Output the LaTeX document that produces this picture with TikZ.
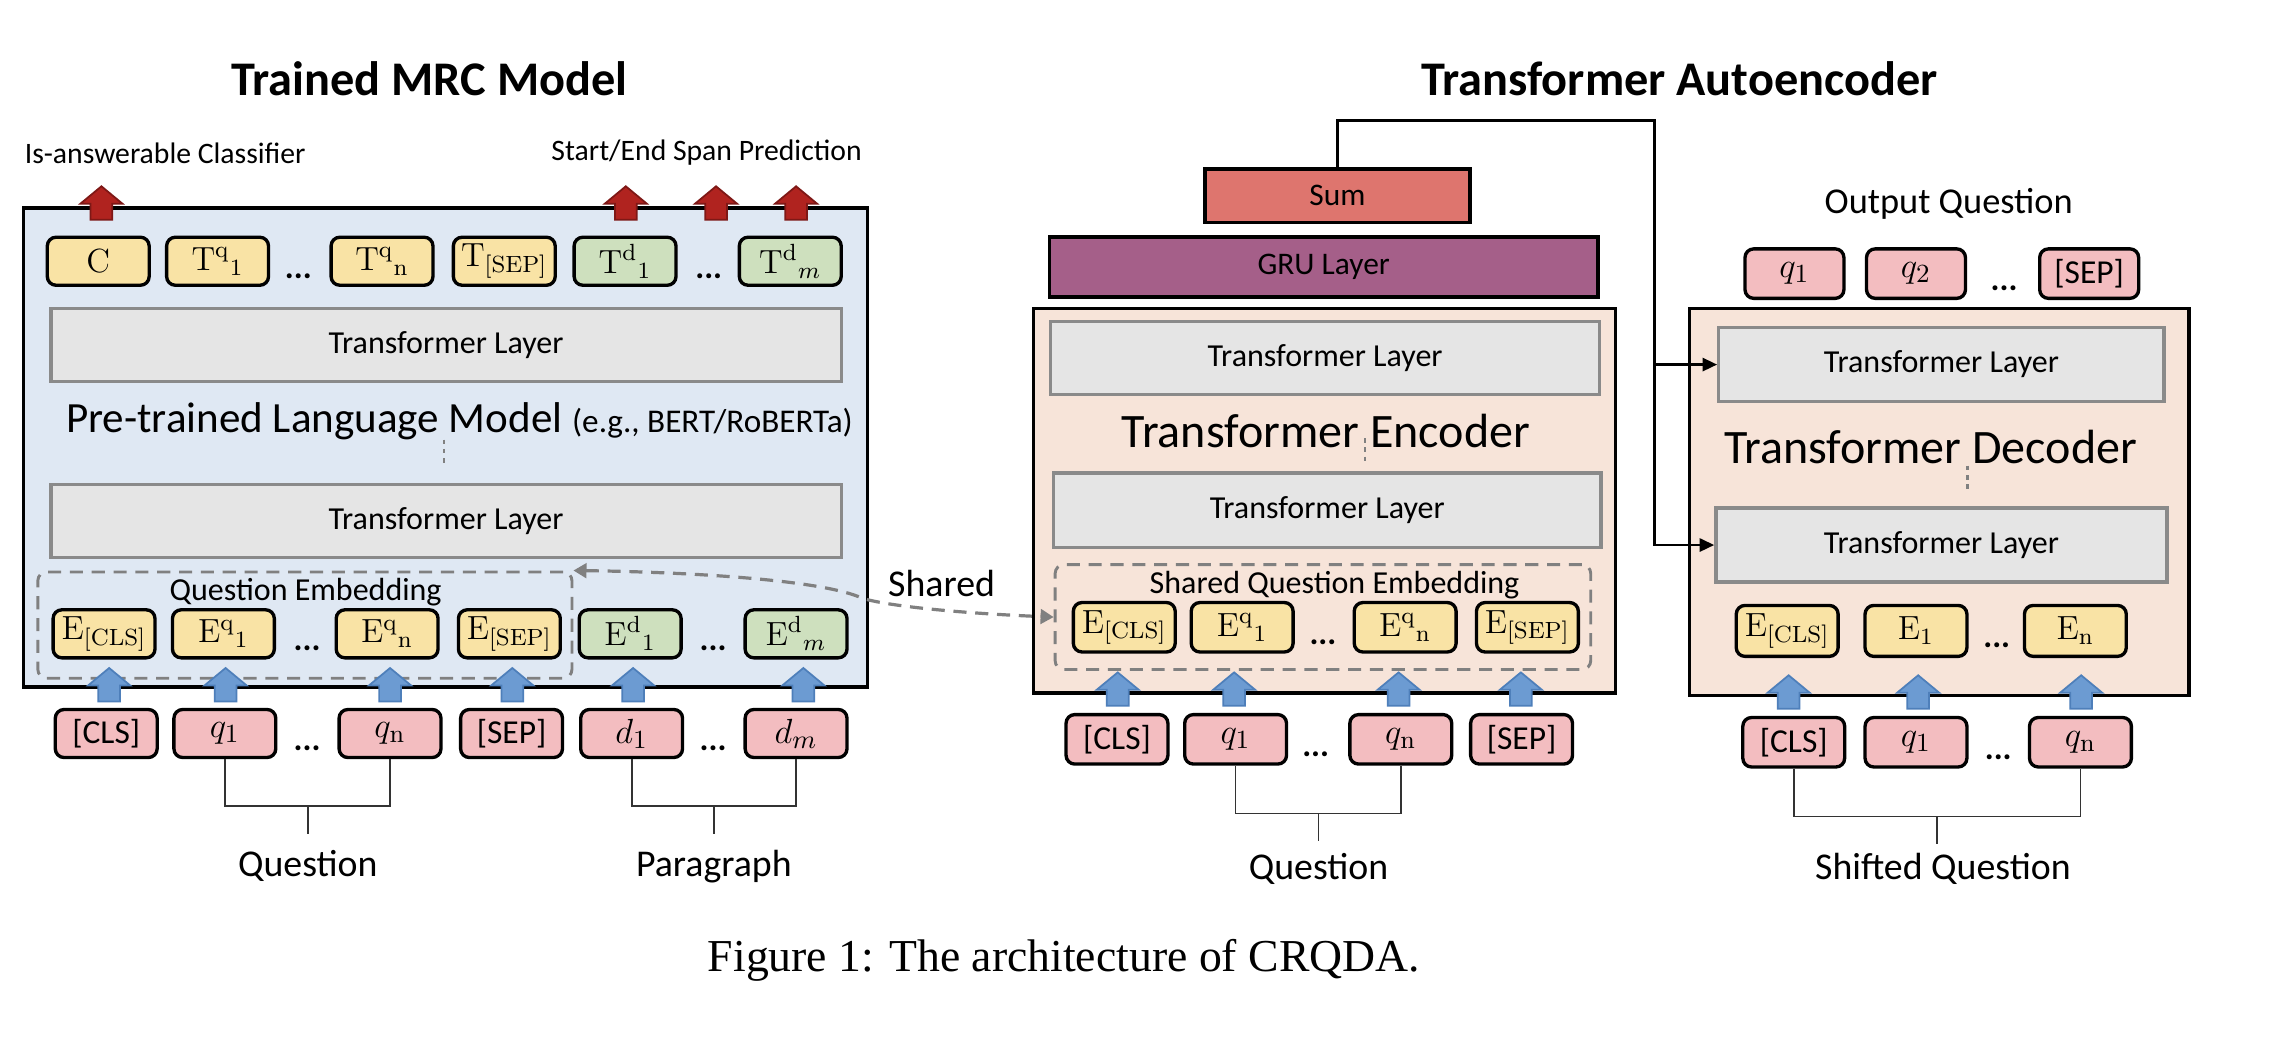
\documentclass[tikz,border=0pt]{standalone}
\usepackage{fontspec}
\newfontfamily\carl{Carlito}
\newfontfamily\tms{Liberation Serif}
\usetikzlibrary{arrows.meta}
\newcommand\myfs[1]{\fontsize{#1}{#1}\selectfont}
\definecolor{mrcbg}{HTML}{DFE8F3}
\definecolor{aebg}{HTML}{F7E4D9}
\definecolor{tyel}{HTML}{F9E3A5}
\definecolor{tgrn}{HTML}{CEE0BE}
\definecolor{tpnk}{HTML}{F3BDC0}
\definecolor{lyfill}{HTML}{E5E5E5}
\definecolor{lydraw}{HTML}{8A8A8A}
\definecolor{sumc}{HTML}{DE756E}
\definecolor{gruc}{HTML}{A55F89}
\definecolor{ared}{HTML}{B0231F}
\definecolor{areddk}{HTML}{7E1816}
\definecolor{ablue}{HTML}{6C9BD2}
\definecolor{abluedk}{HTML}{4E7FBA}
\definecolor{dashg}{HTML}{808080}
\begin{document}
\begin{tikzpicture}[x=0.5pt,y=-0.5pt,
  tok/.style={draw=black,line width=1.15pt,rounded corners=3pt,minimum width=35pt,minimum height=16.5pt,inner sep=0pt,font=\myfs{11.5}},
  ytok/.style={tok,fill=tyel},
  gtok/.style={tok,fill=tgrn},
  ptok/.style={tok,fill=tpnk,minimum height=16.5pt,font=\myfs{12.5}},
  ell/.style={font=\carl\bfseries\myfs{11.5},inner sep=0pt},
  layer/.style={draw=lydraw,fill=lyfill,line width=1.15pt,inner sep=0pt,font=\carl\myfs{11}},
  bigbox/.style={draw=black,line width=1.2pt,inner sep=0pt},
  dbox/.style={draw=dashg,line width=1pt,dash pattern=on 4.5pt off 3pt,rounded corners=3pt,inner sep=0pt},
  lbl/.style={font=\carl\myfs{13},inner sep=0pt},
  small/.style={font=\carl\myfs{10.2},inner sep=0pt},
  ttl/.style={font=\carl\bfseries\myfs{16.6},inner sep=0pt},
  big/.style={font=\carl\myfs{16.5},inner sep=0pt},
  brk/.style={draw=black!80,line width=0.6pt},
  vdots/.style={draw=dashg,line width=0.9pt,dash pattern=on 1.6pt off 1.6pt},
  conn/.style={draw=black,line width=0.9pt,-{Triangle[length=5pt,width=4.5pt]}},
  redup/.style={fill=ared,draw=areddk,line width=0.6pt},
  blueup/.style={fill=ablue,draw=abluedk,line width=0.6pt},
  blockup/.pic={\path[pic actions] (-7.5,0) -- (-7.5,-11) -- (-14.5,-11) -- (0,-23) -- (14.5,-11) -- (7.5,-11) -- (7.5,0) -- cycle;}
]
\fill[white] (0,0) rectangle (1568,717.5);
\useasboundingbox (0,0) rectangle (1568,717.5);

% ================= LEFT: Trained MRC Model =================
\node[ttl] (t1) at (295,54) {Trained MRC Model};
\node[small] (isa) at (113.5,105) {Is-answerable Classifier};
\node[small] (span) at (485.5,105) {Start/End Span Prediction};
\node[bigbox,fill=mrcbg,minimum width=290pt,minimum height=164.5pt] (mrc) at (306,307.5) {};

% top tokens
\node[ytok] (tc) at (67.5,179.5) {$\mathrm{C}$};
\node[ytok] (tq1) at (149.5,179.5) {$\mathrm{T}^{\mathrm{q}}{}_{1}$};
\node[ell] (tdots1) at (205,189.5) {...};
\node[ytok] (tqn) at (262.5,179.5) {$\mathrm{T}^{\mathrm{q}}{}_{\mathrm{n}}$};
\node[ytok] (tsep) at (346.5,179.5) {$\mathrm{T}_{[\mathrm{SEP}]}$};
\node[gtok] (td1) at (429.5,179.5) {$\mathrm{T}^{\mathrm{d}}{}_{1}$};
\node[ell] (tdots2) at (487,189.5) {...};
\node[gtok] (tdm) at (543,179.5) {$\mathrm{T}^{\mathrm{d}}{}_{m}$};

\pic[redup] at (69.7,151) {blockup};
\pic[redup] at (430,151) {blockup};
\pic[redup] at (492,151) {blockup};
\pic[redup] at (547,151) {blockup};

\node[layer,minimum width=271.5pt,minimum height=25pt] (ltl1) at (306.5,237) {Transformer Layer};
\node[anchor=base west,inner sep=0pt,font=\carl] (plm) at (45,297) {\myfs{14.8}Pre-trained Language Model \myfs{11.4}(e.g., BERT/RoBERTa)};
\draw[vdots] (305,302) -- (305,320);
\node[layer,minimum width=271.5pt,minimum height=25pt] (ltl2) at (306.5,358) {Transformer Layer};

\node[dbox,minimum width=183.5pt,minimum height=36.5pt] (qe) at (209.5,429.5) {};
\node[font=\carl\myfs{11},inner sep=0pt] (qet) at (210,407) {Question Embedding};

% embeddings
\node[ytok] (ecls) at (71.5,435.5) {$\mathrm{E}_{[\mathrm{CLS}]}$};
\node[ytok] (eq1) at (153.5,435.5) {$\mathrm{E}^{\mathrm{q}}{}_{1}$};
\node[ell] (edots1) at (211,445.5) {...};
\node[ytok] (eqn) at (266,435.5) {$\mathrm{E}^{\mathrm{q}}{}_{\mathrm{n}}$};
\node[ytok] (esep) at (350,435.5) {$\mathrm{E}_{[\mathrm{SEP}]}$};
\node[gtok] (ed1) at (433,435.5) {$\mathrm{E}^{\mathrm{d}}{}_{1}$};
\node[ell] (edots2) at (490,445.5) {...};
\node[gtok] (edm) at (547,435.5) {$\mathrm{E}^{\mathrm{d}}{}_{m}$};

% inputs
\node[ptok] (icls) at (73,504) {\carl\myfs{11.5}[CLS]};
\node[ptok] (iq1) at (154.5,504) {$q_1$};
\node[ell] (idots1) at (211,514) {...};
\node[ptok] (iqn) at (268,504) {$q_{\mathrm{n}}$};
\node[ptok] (isep) at (351.5,504) {\carl\myfs{11.5}[SEP]};
\node[ptok] (id1) at (434,504) {$d_1$};
\node[ell] (idots2) at (490,514) {...};
\node[ptok] (idm) at (547,504) {$d_m$};

\foreach \xx in {75,155,268,352,435,552} \pic[blueup] at (\xx,482) {blockup};

% brackets
\coordinate (qj) at (211.5,554);
\coordinate (qend) at (211.5,573);
\draw[brk] (iq1.south) |- (qj) -| (iqn.south);
\draw[brk] (qj) -- (qend);
\coordinate (pj) at (490.5,554);
\coordinate (pend) at (490.5,573);
\draw[brk] (id1.south) |- (pj) -| (idm.south);
\draw[brk] (pj) -- (pend);
\node[lbl,anchor=base] (lq) at (211.5,602) {Question};
\node[lbl,anchor=base] (lp) at (490.5,602) {Paragraph};

% ================= MIDDLE: Encoder =================
\node[ttl] (t2) at (1154,54) {Transformer Autoencoder};
\node[bigbox,fill=sumc,minimum width=91pt,minimum height=18.5pt,font=\carl\myfs{10.8}] (sum) at (919,134.5) {Sum};
\node[bigbox,fill=gruc,minimum width=188.5pt,minimum height=20.5pt,font=\carl\myfs{10.8}] (gru) at (909.5,183.5) {GRU Layer};
\node[bigbox,fill=aebg,minimum width=200pt,minimum height=132pt] (enc) at (910,344) {};
\node[layer,minimum width=188.5pt,minimum height=25pt] (etl1) at (910.5,246) {Transformer Layer};
\node[big] (enct) at (911,296) {Transformer Encoder};
\draw[vdots] (938,301) -- (938,318);
\node[layer,minimum width=188pt,minimum height=25.5pt] (etl2) at (912,350.5) {Transformer Layer};
\node[dbox,minimum width=184pt,minimum height=36pt] (se) at (909,424) {};
\node[font=\carl\myfs{11},inner sep=0pt] (set) at (917,402) {Shared Question Embedding};

\node[ytok,minimum height=17pt] (xecls) at (772.5,431) {$\mathrm{E}_{[\mathrm{CLS}]}$};
\node[ytok,minimum height=17pt] (xeq1) at (853.5,431) {$\mathrm{E}^{\mathrm{q}}{}_{1}$};
\node[ell] (xedots) at (909,441) {...};
\node[ytok,minimum height=17pt] (xeqn) at (965.5,431) {$\mathrm{E}^{\mathrm{q}}{}_{\mathrm{n}}$};
\node[ytok,minimum height=17pt] (xesep) at (1049.5,431) {$\mathrm{E}_{[\mathrm{SEP}]}$};

\node[ptok,minimum height=17pt] (xicls) at (767.5,508) {\carl\myfs{11.5}[CLS]};
\node[ptok,minimum height=17pt] (xiq1) at (849,508) {$q_1$};
\node[ell] (xidots) at (904,518) {...};
\node[ptok,minimum height=17pt] (xiqn) at (962.5,508) {$q_{\mathrm{n}}$};
\node[ptok,minimum height=17pt] (xisep) at (1045.5,508) {\carl\myfs{11.5}[SEP]};

\foreach \xx in {768,848,961,1045} \pic[blueup] at (\xx,485) {blockup};

\coordinate (xqj) at (906,559);
\coordinate (xqend) at (906,578);
\draw[brk] (xiq1.south) |- (xqj) -| (xiqn.south);
\draw[brk] (xqj) -- (xqend);
\node[lbl,anchor=base] (xlq) at (906,604) {Question};

% shared arrow
\draw[draw=dashg,line width=1.1pt,dash pattern=on 4.5pt off 3pt,{Triangle[length=4.5pt,width=5pt]}-{Triangle[length=4.5pt,width=5pt]}]
  (qe.north east) .. controls (470,393) and (560,398) .. (590,410)
  .. controls (600,415) and (650,421) .. (se.west);
\node[lbl] (shr) at (647,401) {Shared};

% ================= RIGHT: Decoder =================
\node[lbl,font=\carl\myfs{12.5}] (oq) at (1339,140) {Output Question};
\node[ptok,minimum width=34pt,minimum height=17pt] (oq1) at (1233,188) {$q_1$};
\node[ptok,minimum width=34pt,minimum height=17pt] (oq2) at (1316.5,188) {$q_2$};
\node[ell] (odots) at (1377,198) {...};
\node[ptok,minimum width=34pt,minimum height=17pt] (osep) at (1435.5,188) {\carl\myfs{11.5}[SEP]};

\node[bigbox,fill=aebg,minimum width=171.5pt,minimum height=133pt] (dec) at (1332.5,345) {};
\node[layer,minimum width=153pt,minimum height=25.5pt] (dtl1) at (1334,250.5) {Transformer Layer};
\node[big] (dect) at (1326.5,307) {Transformer Decoder};
\draw[vdots] (1352,320) -- (1352,338);
\node[layer,minimum width=155pt,minimum height=25.5pt] (dtl2) at (1334,374.5) {Transformer Layer};

\node[ytok,minimum height=17.5pt] (decls) at (1228,433.5) {$\mathrm{E}_{[\mathrm{CLS}]}$};
\node[ytok,minimum height=17.5pt] (de1) at (1316.5,433.5) {$\mathrm{E}_{1}$};
\node[ell] (dedots) at (1372,443.5) {...};
\node[ytok,minimum height=17.5pt] (den) at (1426,433.5) {$\mathrm{E}_{\mathrm{n}}$};

\node[ptok,minimum height=17pt] (dicls) at (1232.5,510) {\carl\myfs{11.5}[CLS]};
\node[ptok,minimum height=17pt] (diq1) at (1316.5,510) {$q_1$};
\node[ell] (didots) at (1373,520) {...};
\node[ptok,minimum height=17pt] (diqn) at (1429.5,510) {$q_{\mathrm{n}}$};

\foreach \xx in {1229,1318,1430} \pic[blueup] at (\xx,487) {blockup};

\coordinate (dqj) at (1331,561);
\coordinate (dqend) at (1331,580);
\draw[brk] (dicls.south) |- (dqj) -| (diqn.south);
\draw[brk] (dqj) -- (dqend);
\node[lbl,anchor=base] (dlq) at (1335,604) {Shifted Question};

% Sum to decoder
\coordinate (top) at (1137,83);
\draw[conn] (sum.north) |- (top) |- (dtl2.west);
\draw[conn] (top) |- (dtl1.west);

% caption
\node[font=\tms\myfs{15.7},inner sep=0pt] (cap) at (731,660) {Figure 1: The architecture of CRQDA.};
\end{tikzpicture}
\end{document}
